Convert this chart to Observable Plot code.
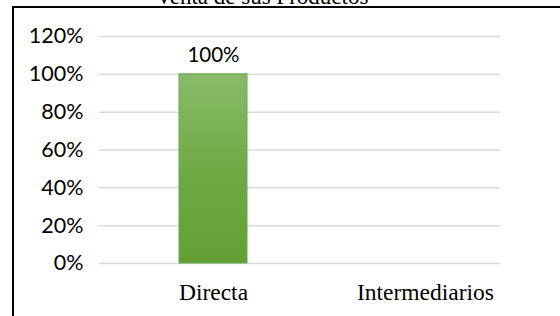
<!DOCTYPE html>
<html>
<head>
<meta charset="utf-8">
<script src="https://cdn.jsdelivr.net/npm/d3@7"></script>
<script src="https://cdn.jsdelivr.net/npm/@observablehq/plot@0.6"></script>
<style>
  html, body { margin: 0; padding: 0; background: #fff; }
  #wrap { position: relative; width: 560px; height: 316px; overflow: hidden; background: #fff; }
  #box { position: absolute; left: 12px; top: 6px; width: 700px; height: 500px;
         border-left: 2px solid #000; border-top: 2px solid #000; }
  #title { position: absolute; left: 0; top: -15px; width: 524px; text-align: center;
           font-family: "Liberation Serif", "Times New Roman", serif; font-size: 23px; line-height: 23px; color: #000; }
  #chart { position: absolute; left: 0; top: 0; }
</style>
</head>
<body>
<div id="wrap">
  <div id="box"></div>
  <div id="title">Venta de sus Productos</div>
  <div id="chart"></div>
</div>
<script>
const categories = ["Directa", "Intermediarios"];
const values = [1.0, null];
const yTicks = [0, 0.2, 0.4, 0.6, 0.8, 1.0, 1.2];

const data = categories.map((c, i) => ({cat: c, value: values[i]}));
const pct = d => Math.round(d * 100) + "%";

const chart = Plot.plot({
  width: 560,
  height: 316,
  marginLeft: 99,
  marginRight: 60,
  marginTop: 36,
  marginBottom: 53,
  style: {background: "transparent", color: "#000"},
  x: {domain: categories, paddingInner: 0.679, paddingOuter: 0.285, align: 0.66, label: null},
  y: {domain: [0, 1.2], label: null},
  marks: [
    Plot.gridY(yTicks, {stroke: "#d9d9d9", strokeOpacity: 1, strokeWidth: 1.5}),
    Plot.barY(data.filter(d => d.value != null), {x: "cat", y: "value", fill: "url(#barGrad)", stroke: "#6aa84f", strokeWidth: 1}),
    Plot.text(data.filter(d => d.value != null), {x: "cat", y: "value", text: d => pct(d.value),
      lineAnchor: "bottom", dy: -12, fontSize: 20.5, fontFamily: "Lato, 'Open Sans', sans-serif", fill: "#000"}),
    Plot.axisY(yTicks, {tickSize: 0, tickPadding: 16, tickFormat: pct, fontSize: 21.5,
      fontFamily: "Lato, 'Open Sans', sans-serif", fill: "#000", label: null}),
    Plot.axisX({tickSize: 0, tickPadding: 20, fontSize: 23.5,
      fontFamily: "'Liberation Serif', 'Times New Roman', serif", fill: "#000", label: null})
  ]
});

chart.insertAdjacentHTML("afterbegin",
  '<defs><linearGradient id="barGrad" x1="0" y1="0" x2="0" y2="1">' +
  '<stop offset="0" stop-color="#88bb68"/>' +
  '<stop offset="0.5" stop-color="#6fab45"/>' +
  '<stop offset="1" stop-color="#62a036"/>' +
  '</linearGradient></defs>');

document.getElementById("chart").appendChild(chart);
</script>
</body>
</html>
